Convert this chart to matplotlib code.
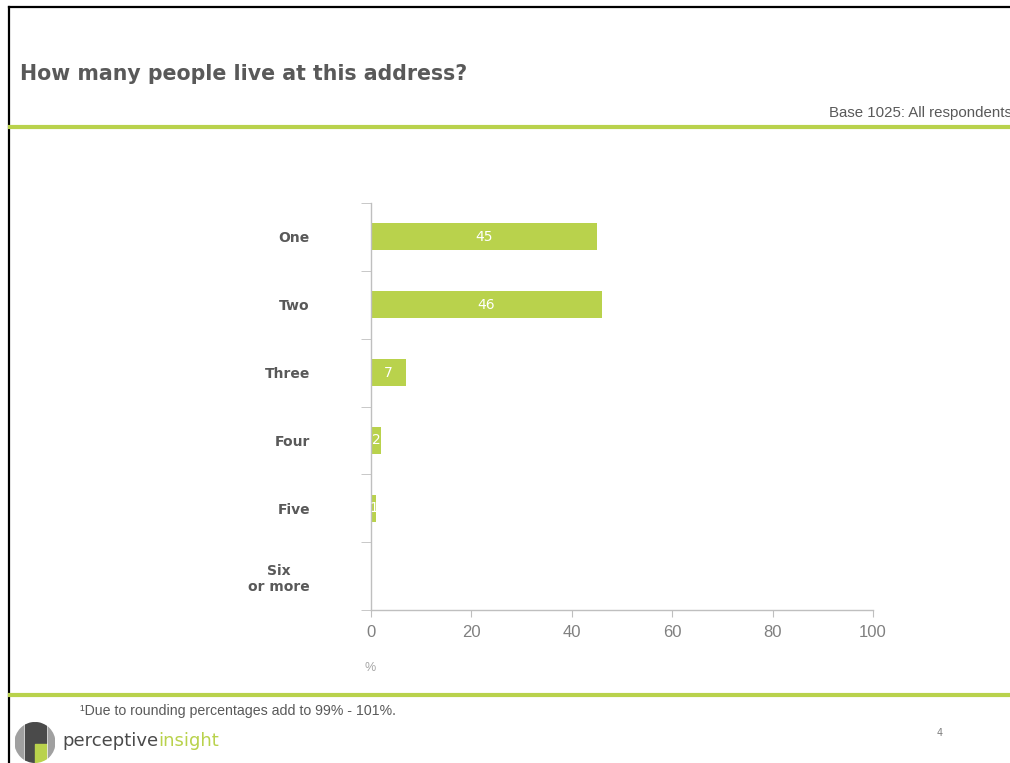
import matplotlib.pyplot as plt
from matplotlib.lines import Line2D
from matplotlib.patches import Circle, Rectangle

# Data
categories = ["One", "Two", "Three", "Four", "Five", "Six\nor more"]
values = [45, 46, 7, 2, 1, 0]
xticks = [0, 20, 40, 60, 80, 100]

GREEN = "#b9d24c"
DARK = "#595959"
AXIS = "#bfbfbf"

W, H = 1010, 763
fig = plt.figure(figsize=(W / 100, H / 100), dpi=100)
fig.patch.set_facecolor("white")


def fx(px):
    return px / W


def fy(py):
    return 1 - py / H


# Slide frame (black border, left + top)
fig.add_artist(Line2D([fx(9), fx(9)], [0, fy(7)], color="black", lw=1.6))
fig.add_artist(Line2D([fx(9), 1], [fy(7), fy(7)], color="black", lw=1.6))

# Header
fig.text(fx(20), fy(74), "How many people live at this address?", fontsize=14.8,
         fontweight="bold", color=DARK, va="center", ha="left")
fig.text(fx(1012), fy(113), "Base 1025: All respondents", fontsize=10.8,
         family="Liberation Sans", color=DARK, va="center", ha="right")
fig.add_artist(Line2D([fx(10), 1], [fy(127), fy(127)], color=GREEN, lw=3))

# Chart
ax = fig.add_axes([fx(371), fy(610), fx(873) - fx(371), fy(203) - fy(610)])
y = list(range(len(categories)))
bars = ax.barh(y, values, height=0.4, color=GREEN)
for bar, v in zip(bars, values):
    if v > 0:
        ax.text(bar.get_x() + bar.get_width() / 2, bar.get_y() + bar.get_height() / 2,
                str(v), ha="center", va="center", color="white", fontsize=10)

ax.set_xlim(0, 100)
ax.set_ylim(len(categories) - 0.5, -0.5)
ax.set_xticks(xticks)
ax.set_xticklabels([str(t) for t in xticks], family="Liberation Sans",
                   fontsize=12, color="#808080")
ax.set_yticks(y)
ax.set_yticklabels(categories, fontsize=10, fontweight="bold", color=DARK,
                   ha="right", multialignment="center")
ax.set_yticks([i - 0.5 for i in range(len(categories) + 1)], minor=True)
ax.tick_params(axis="y", which="major", length=0, pad=44)
ax.tick_params(axis="y", which="minor", length=7, color=AXIS, direction="out")
ax.tick_params(axis="x", length=5, color=AXIS, pad=6)
for s in ["top", "right"]:
    ax.spines[s].set_visible(False)
for s in ["left", "bottom"]:
    ax.spines[s].set_color(AXIS)
    ax.spines[s].set_linewidth(1)
ax.set_facecolor("none")

fig.text(fx(370), fy(668), "%", fontsize=9, color="#a6a6a6", ha="center", va="center",
         family="Liberation Sans")

# Footer
fig.add_artist(Line2D([fx(10), 1], [fy(695), fy(695)], color=GREEN, lw=3))
fig.text(fx(80), fy(711), "¹Due to rounding percentages add to 99% - 101%.",
         fontsize=10.2, family="Liberation Sans", color=DARK, va="center", ha="left")
fig.text(fx(940), fy(733), "4", fontsize=7, color="#808080", ha="center", va="center")

# Logo
lax = fig.add_axes([fx(14), fy(763), fx(56) - fx(14), fy(722) - fy(763)])
lax.set_xlim(-1, 1)
lax.set_ylim(-1, 1)
lax.set_aspect("equal")
lax.axis("off")
clip = Circle((0, 0), 1, transform=lax.transData)
stripes = [
    (-1.0, -1, 0.42, 2, "#a0a0a0"),
    (-0.48, -1, 0.42, 2, "#4a4a4a"),
    (0.02, 0.0, 0.5, 1, "#4a4a4a"),
    (0.02, -1, 0.5, 0.92, GREEN),
    (0.62, -1, 0.4, 2, "#a0a0a0"),
]
for x0, y0, w, h, c in stripes:
    r = Rectangle((x0, y0), w, h, color=c)
    lax.add_patch(r)
    r.set_clip_path(clip)

t = fig.text(fx(62), fy(741), "perceptive", fontsize=13, color="#4a4a4a",
             va="center", ha="left")
fig.canvas.draw()
bb = t.get_window_extent()
fig.text(bb.x1 / W, fy(741), "insight", fontsize=13, color=GREEN, va="center", ha="left")

fig.savefig("out.png", dpi=100)
